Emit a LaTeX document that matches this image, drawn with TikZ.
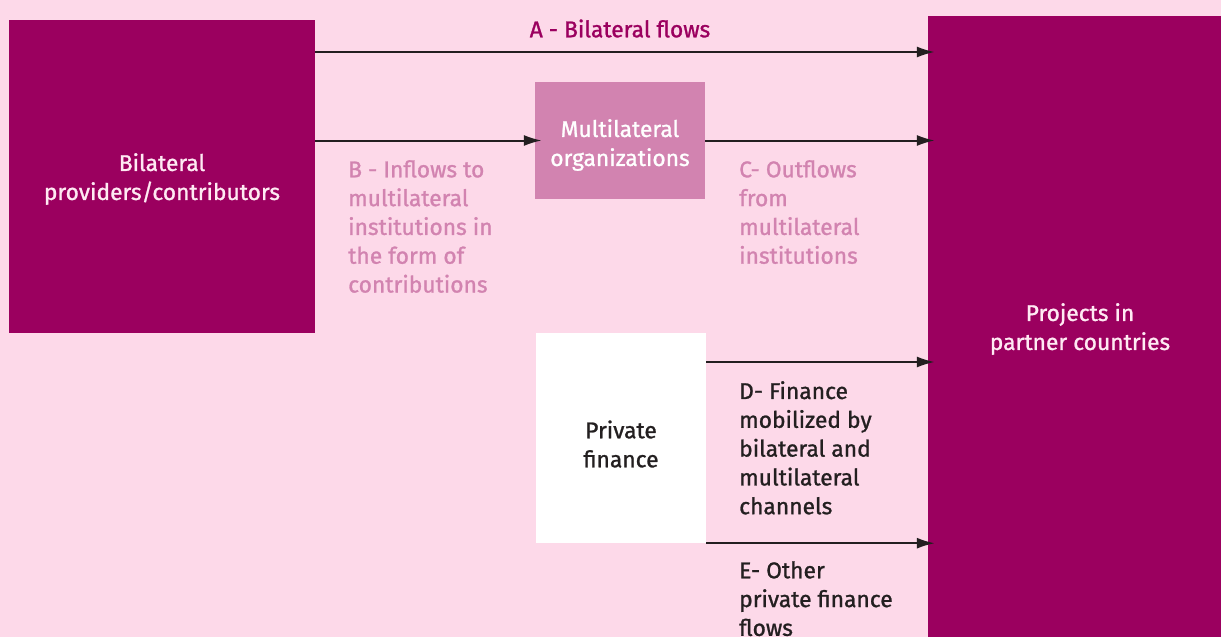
\documentclass[tikz,border=0pt]{standalone}
\usepackage{fontspec}
\setmainfont{Fira Sans}[FakeBold=1.1]
\usetikzlibrary{arrows.meta}
\definecolor{bgpink}{HTML}{FDD9E9}
\definecolor{plum}{HTML}{9B005F}
\definecolor{mauve}{HTML}{D283B0}
\definecolor{ink}{HTML}{231F20}
\definecolor{palewhite}{HTML}{FFEAF3}
\tikzset{
  box/.style={rectangle, inner sep=0pt, align=center, font=\fontsize{22.8}{29}\selectfont},
  flow/.style={draw=ink, line width=2pt, -{Latex[length=18pt,width=11pt]}, shorten >=-7pt},
  lbl/.style={anchor=north west, inner sep=0pt, align=left, font=\fontsize{22.8}{28.8}\selectfont},
}
\begin{document}
\begin{tikzpicture}[x=1pt,y=-1pt]
\useasboundingbox (0,0) rectangle (1221,637);
\fill[bgpink] (0,0) rectangle (1221,637);
\node[box, fill=plum, minimum width=306pt, minimum height=313pt] (bil) at (162,176.5) {};
\node[box, text=palewhite] (bilt) at (162,179) {Bilateral\\providers/contributors};
\node[box, fill=plum, minimum width=304pt, minimum height=622pt] (proj) at (1080,327) {};
\node[box, text=palewhite] (projt) at (1080,329) {Projects in\\partner countries};
\node[box, fill=mauve, minimum width=170pt, minimum height=117pt] (mult) at (620,140.5) {};
\node[box, text=white] (multt) at (620,145) {Multilateral\\organizations};
\node[box, fill=white, minimum width=170pt, minimum height=210pt] (priv) at (621,438) {};
\node[box, text=ink] (privt) at (621,444) {Private\\finance};
\coordinate (a1) at (bil.east |- 0,52);
\coordinate (a2) at (proj.west |- 0,52);
\draw[flow] (a1) -- (a2);
\node[inner sep=0pt, text=plum, font=\fontsize{22.8}{29}\selectfont] (la) at (620,28.5) {A - Bilateral flows};
\draw[flow] (bil.east |- mult.west) -- (mult.west);
\draw[flow] (mult.east) -- (proj.west |- mult.east);
\coordinate (d1) at (priv.east |- 0,362);
\draw[flow] (d1) -- (proj.west |- d1);
\coordinate (e1) at (priv.south east);
\draw[flow] (e1) -- (proj.west |- e1);
\node[lbl, text=mauve] (lb) at (348,160) {B - Inflows to\\multilateral\\institutions in\\the form of\\contributions};
\node[lbl, text=mauve] (lc) at (739,160) {C- Outflows\\from\\multilateral\\institutions};
\node[lbl, text=ink] (ld) at (739,381) {D- Finance\\mobilized by\\bilateral and\\multilateral\\channels};
\node[lbl, text=ink] (le) at (739,561) {E- Other\\private finance\\flows};
\end{tikzpicture}
\end{document}
